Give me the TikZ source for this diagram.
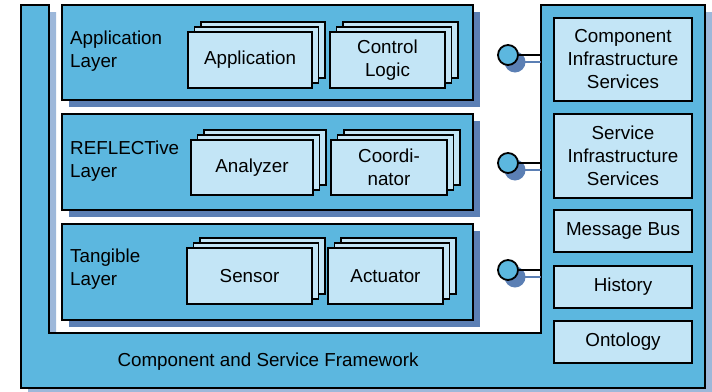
\documentclass[tikz,border=0pt]{standalone}
\usepackage{fontspec}
\setmainfont{Liberation Sans}
\usetikzlibrary{shadows}
\definecolor{mainblue}{HTML}{5CB7DF}
\definecolor{lightblue}{HTML}{C3E5F6}
\definecolor{shadowblue}{HTML}{5B7FB4}
\definecolor{stripblue}{HTML}{9DB8DA}
\tikzset{
  edge/.style={draw=black, line width=1.8pt},
  layerbox/.style={edge, fill=mainblue, inner sep=0pt,
    drop shadow={shadow xshift=7pt, shadow yshift=-7pt, opacity=1, fill=shadowblue}},
  compbox/.style={edge, fill=lightblue, inner sep=2pt, align=center},
  svcbox/.style={edge, fill=lightblue, inner sep=2pt, align=center},
  lbl/.style={anchor=west, align=left, inner sep=0pt},
  txt/.style={font=\fontsize{18.8}{23}\selectfont},
  lolli/.style={circle, edge, fill=mainblue, minimum size=20pt, inner sep=0pt},
  lollishadow/.style={circle, fill=shadowblue, minimum size=21pt, inner sep=0pt},
}
\newcommand\compstack[6]{% name, cx, cy, w, h, text
  \path[edge, fill=lightblue] (#2-#4/2+13,#3-#5/2-10) rectangle (#2+#4/2+13,#3+#5/2-10);
  \path[edge, fill=lightblue] (#2-#4/2+6.5,#3-#5/2-5) rectangle (#2+#4/2+6.5,#3+#5/2-5);
  \node[compbox, minimum width=#4pt, minimum height=#5pt] (#1) at (#2,#3) {#6};
}
\begin{document}
\begin{tikzpicture}[x=1pt, y=-1pt, txt]
\useasboundingbox (0,0) rectangle (712,391);
% framework shadow
\fill[stripblue] (28,12) -- (56,12) -- (56,340) -- (548,340) -- (548,12) -- (712,12) -- (712,395) -- (28,395) -- cycle;
% framework
\path[edge, fill=mainblue] (21,5) -- (49,5) -- (49,333) -- (541,333) -- (541,5) -- (705,5) -- (705,388) -- (21,388) -- cycle;
\coordinate (fwA) at (541,55);
\coordinate (fwB) at (541,163);
\coordinate (fwC) at (541,270);
\node[txt, inner sep=0pt] (fwlabel) at (268,362) {Component and Service Framework};
% layers
\node[layerbox, minimum width=411pt, minimum height=95pt] (applayer) at (267.5,52.5) {};
\node[layerbox, minimum width=411pt, minimum height=96pt] (reflayer) at (267.5,162) {};
\node[layerbox, minimum width=411pt, minimum height=96pt] (tanlayer) at (267.5,272) {};
\node[lbl] (applbl) at (70,51) {Application\\Layer};
\node[lbl] (reflbl) at (70,161) {REFLECTive\\Layer};
\node[lbl] (tanlbl) at (70,269) {Tangible\\Layer};
% component stacks
\compstack{app}{250}{60}{124}{56}{Application}
\compstack{ctl}{387.5}{60}{115}{56}{Control\\Logic}
\compstack{ana}{252}{167.5}{122}{55}{Analyzer}
\compstack{coo}{389}{167.5}{116}{55}{Coordi-\\nator}
\compstack{sen}{249.5}{276}{125}{56}{Sensor}
\compstack{act}{385.5}{276}{115}{56}{Actuator}
% services
\node[svcbox, minimum width=138pt, minimum height=83pt] (cis) at (623,59.5) {Component\\Infrastructure\\Services};
\node[svcbox, minimum width=138pt, minimum height=84pt] (sis) at (623,156) {Service\\Infrastructure\\Services};
\node[svcbox, minimum width=138pt, minimum height=42pt] (mb) at (623,231) {Message Bus};
\node[svcbox, minimum width=138pt, minimum height=42pt] (hist) at (623,287) {History};
\node[svcbox, minimum width=138pt, minimum height=42pt] (onto) at (623,342) {Ontology};
% lollipops
\foreach \n/\yy in {A/55, B/163, C/270}{
  \node[lollishadow] (ls\n) at (515,\yy+7) {};
  \draw[shadowblue, line width=2.2pt] (ls\n.center) -- (fw\n |- ls\n.center);
  \node[lolli] (l\n) at (508,\yy) {};
  \draw[edge] (l\n) -- (fw\n);
}
\end{tikzpicture}
\end{document}
